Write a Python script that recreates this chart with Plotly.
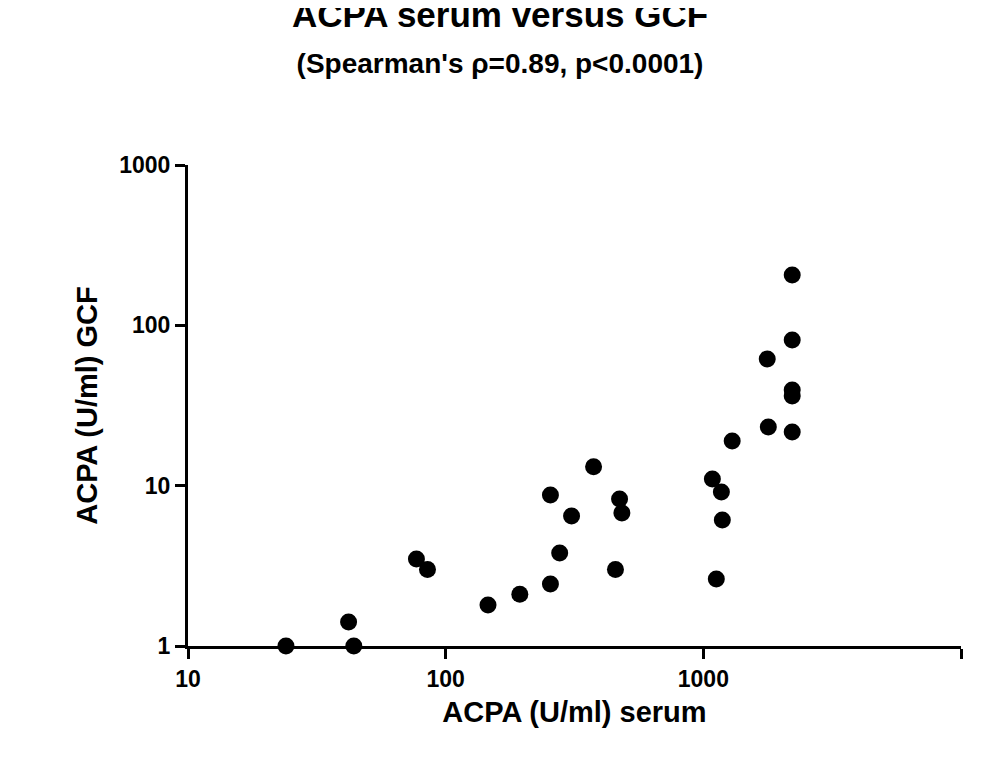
import plotly.graph_objects as go

serum = [24, 42, 44, 77, 85, 146, 194, 255, 255, 308, 277, 375, 456, 473, 483,
         1084, 1123, 1175, 1185, 1294, 1770, 1787, 2213, 2213, 2213, 2213, 2213]
gcf = [1.0, 1.41, 1.0, 3.49, 3.0, 1.8, 2.1, 2.44, 8.75, 6.47, 3.8, 13.1, 3.0, 8.26, 6.76,
       11.0, 2.62, 9.14, 6.1, 19.0, 61.7, 23.2, 206, 81, 39.5, 36.3, 21.6]

font = "Liberation Sans, Arial"
fig = go.Figure(go.Scatter(x=serum, y=gcf, mode="markers", cliponaxis=False,
                           marker=dict(color="black", size=17)))

axis_common = dict(type="log", showgrid=False, zeroline=False, showline=True,
                   linecolor="black", linewidth=3, ticks="outside", ticklen=10,
                   tickwidth=3, tickcolor="black",
                   tickfont=dict(family=font, size=23, color="black", weight="bold"),
                   title_font=dict(family=font, size=29, color="black", weight="bold"))
fig.update_xaxes(**axis_common, range=[1, 4], tickvals=[10, 100, 1000, 10000],
                 ticktext=["10", "100", "1000", "10000"], title_text="ACPA (U/ml) serum",
                 title_standoff=12)
fig.update_yaxes(**axis_common, range=[0, 3], tickvals=[1, 10, 100, 1000],
                 ticktext=["1", "10", "100", "1000"], title_text="ACPA (U/ml) GCF",
                 title_standoff=14)

fig.update_layout(
    width=984, height=765, plot_bgcolor="white", paper_bgcolor="white",
    margin=dict(l=180, r=31, t=157, b=127), showlegend=False,
    title=dict(text="<b>ACPA serum versus GCF</b><br><span style='font-size:28px'><b>(Spearman's ρ=0.89, p<0.0001)</b></span>",
               x=0.5, xanchor="center", y=0.975, yanchor="top",
               font=dict(family=font, size=35, color="black")),
)
fig.write_html("out.html")
